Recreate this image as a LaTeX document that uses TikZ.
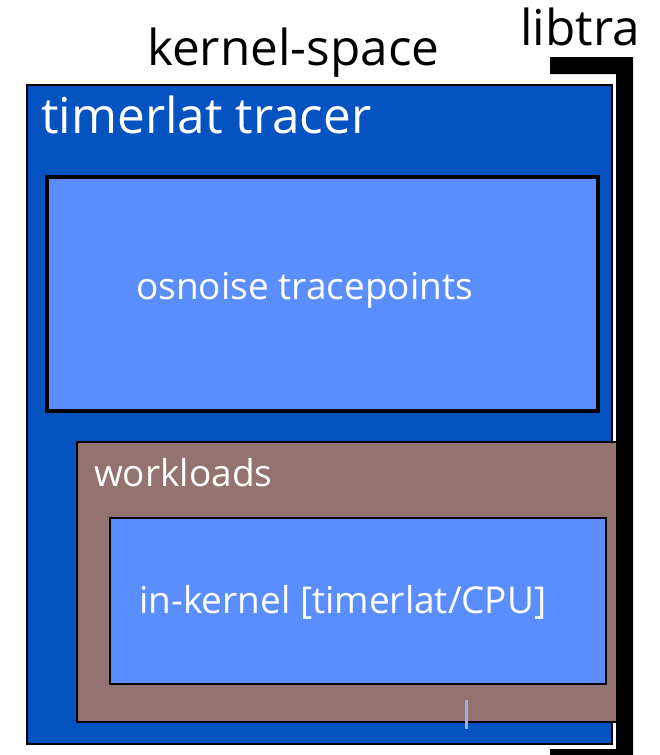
\documentclass[tikz,border=0pt]{standalone}
\usepackage{fontspec}
\setmainfont{Open Sans}
\definecolor{tracerblue}{HTML}{0552C1}
\definecolor{lightblue}{HTML}{5A8EFF}
\definecolor{workbrown}{HTML}{937370}
\definecolor{tickviolet}{HTML}{A8A8EE}
\begin{document}
\begin{tikzpicture}[x=1pt,y=-1pt,
  area/.style={draw=black, anchor=north west, inner sep=0pt, outer sep=0pt},
  bigtext/.style={inner sep=0pt, anchor=base west, font=\fontsize{49.5}{58}\selectfont},
  boxtext/.style={inner sep=0pt, anchor=base west, text=white, font=\fontsize{37}{44}\selectfont}]
\useasboundingbox (0,0) rectangle (659,755);

% user-space bracket
\fill[black] (550,57) -- (633,57) -- (633,755) -- (550,755) -- (550,749)
  -- (616,749) -- (616,74) -- (550,74) -- cycle;

% kernel-space container
\node[area, fill=tracerblue, line width=2pt, minimum width=585pt, minimum height=659pt]
  (tracer) at (27,85) {};
\node[area, fill=lightblue, line width=3.5pt, minimum width=551pt, minimum height=234pt]
  (osnoise) at (47,177) {};
\node[area, fill=workbrown, line width=2.5pt, minimum width=540pt, minimum height=280pt]
  (workloads) at (77,442) {};
\node[area, fill=lightblue, line width=2.5pt, minimum width=496pt, minimum height=166pt]
  (inkernel) at (110,518) {};

% small tick inside the workloads area
\coordinate (ticktop) at (466,700);
\coordinate (tickbot) at (466,729);
\draw[tickviolet, line width=3pt] (ticktop) -- (tickbot);

% labels
\node[bigtext] (kslabel) at (147,65) {kernel-space};
\node[bigtext] (uslabel) at (520,45) {libtra};
\node[bigtext, text=white] (tracerlabel) at (41,133) {timerlat tracer};
\node[boxtext] (osnoiselabel) at (136,299) {osnoise tracepoints};
\node[boxtext] (workloadslabel) at (94,486) {workloads};
\node[boxtext] (inkernellabel) at (139,613) {in-kernel [timerlat/CPU]};
\end{tikzpicture}
\end{document}
